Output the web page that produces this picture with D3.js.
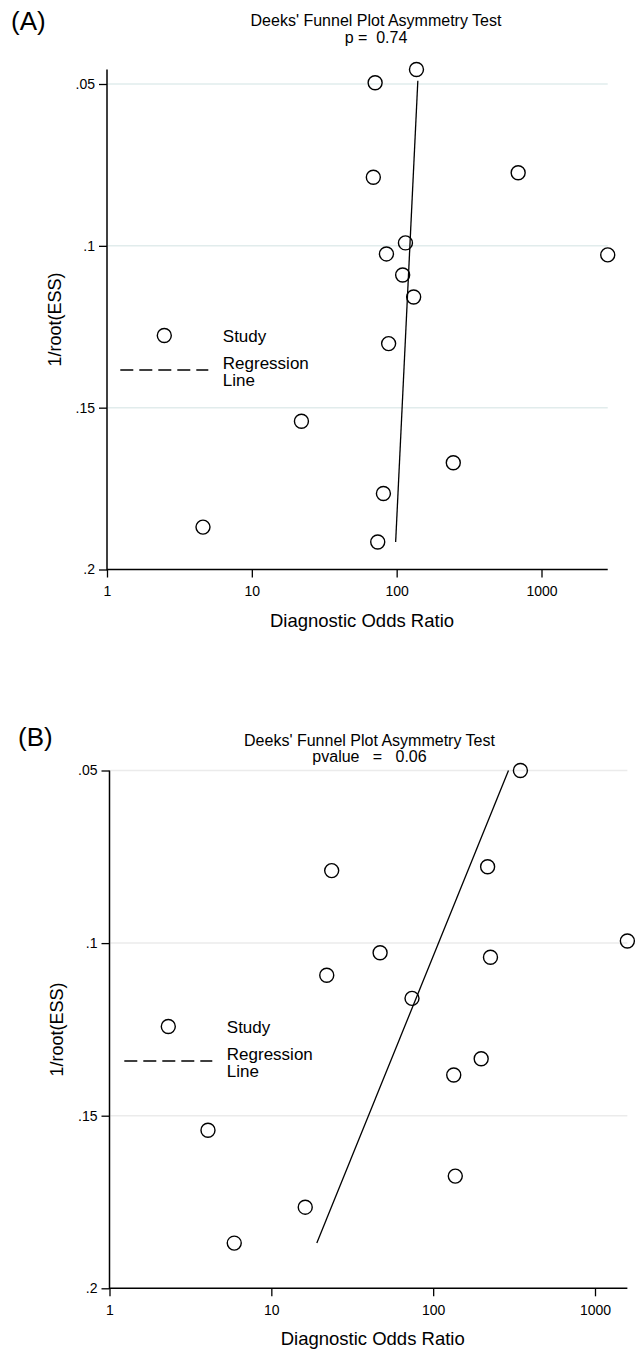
<!DOCTYPE html>
<html>
<head>
<meta charset="utf-8">
<script src="https://cdn.jsdelivr.net/npm/d3@7"></script>
<style>
body { margin: 0; background: #fff; }
svg text { font-family: "Liberation Sans", Arial, sans-serif; fill: #000; }
</style>
</head>
<body>
<svg id="chart" width="638" height="1355"></svg>
<script>
// panel A: diagnostic odds ratio vs 1/root(ESS), one value per study
const dorA = [137, 71, 69, 690, 115, 85, 2866, 110, 131, 88, 22, 246, 81, 4.6, 74];
const essA = [.0455, .0496, .0788, .0774, .0991, .1025, .1028, .109, .1158, .1302, .1542, .167, .1765, .1869, .1915];
// regression line end points
const regDorA = [140, 98.4];
const regEssA = [.049, .1915];

// panel B
const dorB = [346, 23.6, 217, 1585, 47, 226, 22, 74, 198, 134, 4.06, 137, 16.2, 5.9];
const essB = [.05, .079, .0779, .0994, .1028, .1041, .1093, .116, .1335, .1382, .1542, .1675, .1765, .1869];
const regDorB = [292, 19.1];
const regEssB = [.05, .1869];

const xTicks = [1, 10, 100, 1000];
const xTickLabels = ["1", "10", "100", "1000"];
const yTicks = [.05, .1, .15, .2];
const yTickLabels = [".05", ".1", ".15", ".2"];

const svg = d3.select("#chart");

function drawPanel(p) {
    const x = d3.scaleLog().domain([1, 1000]).range([p.x1, p.x1000]);
    const y = d3.scaleLinear().domain([.05, .2]).range([p.y05, p.y2]);

    const xMax = d3.max(p.dor);
    const yMin = Math.min(.05, d3.min(p.ess));

    const g = svg.append("g");

    // light horizontal grid
    g.append("g").selectAll("line")
        .data(yTicks.slice(0, 3))
      .enter()
      .append("line")
        .attr("x1", x(1) + 1)
        .attr("x2", x(xMax))
        .attr("y1", d => y(d))
        .attr("y2", d => y(d))
        .attr("stroke", p.gridColour)
        .attr("stroke-width", 1.5);

    // axes
    const ax = g.append("g")
        .attr("transform", `translate(0,${y(.2)})`)
        .call(d3.axisBottom(x).tickValues(xTicks)
            .tickFormat((d, i) => xTickLabels[i])
            .tickSize(8).tickPadding(9));
    const ay = g.append("g")
        .attr("transform", `translate(${x(1)},0)`)
        .call(d3.axisLeft(y).tickValues(yTicks)
            .tickFormat((d, i) => yTickLabels[i])
            .tickSize(8).tickPadding(4));

    [ax, ay].forEach(a => {
        a.select(".domain").remove();
        a.attr("font-family", null).attr("font-size", 14);
        a.selectAll(".tick line").attr("stroke", "#000").attr("stroke-width", 1.3);
    });

    g.append("line")
        .attr("x1", x(1)).attr("x2", x(xMax))
        .attr("y1", y(.2)).attr("y2", y(.2))
        .attr("stroke", "#000").attr("stroke-width", 1.5);
    g.append("line")
        .attr("x1", x(1)).attr("x2", x(1))
        .attr("y1", y(yMin)).attr("y2", y(.2) + 0.75)
        .attr("stroke", "#000").attr("stroke-width", 1.5);

    // regression line
    g.append("path")
        .datum(d3.zip(p.regDor, p.regEss))
        .attr("d", d3.line().x(d => x(d[0])).y(d => y(d[1])))
        .attr("fill", "none")
        .attr("stroke", "#000")
        .attr("stroke-width", 1.3);

    // studies
    g.append("g").selectAll("circle")
        .data(d3.zip(p.dor, p.ess))
      .enter()
      .append("circle")
        .attr("cx", d => x(d[0]))
        .attr("cy", d => y(d[1]))
        .attr("r", 7)
        .attr("fill", "none")
        .attr("stroke", "#000")
        .attr("stroke-width", 1.4);

    // titles
    g.append("text")
        .attr("x", p.tagX).attr("y", p.tagY)
        .attr("font-size", 26)
        .text(p.tag);
    g.append("text")
        .attr("x", p.titleX).attr("y", p.titleY)
        .attr("text-anchor", "middle")
        .attr("font-size", 16)
        .text("Deeks' Funnel Plot Asymmetry Test");
    g.append("text")
        .attr("x", p.titleX).attr("y", p.titleY + 16.5)
        .attr("text-anchor", "middle")
        .attr("font-size", 16)
        .style("white-space", "pre")
        .text(p.subtitle);

    g.append("text")
        .attr("transform", `translate(${p.yTitleX},${(y(yMin) + y(.2)) / 2}) rotate(-90)`)
        .attr("text-anchor", "middle")
        .attr("font-size", 18)
        .text("1/root(ESS)");
    g.append("text")
        .attr("x", p.xTitleX).attr("y", y(.2) + 57)
        .attr("text-anchor", "middle")
        .attr("font-size", 18.5)
        .text("Diagnostic Odds Ratio");

    // legend
    const lg = g.append("g").attr("transform", `translate(${p.legX},${p.legY})`);
    lg.append("circle")
        .attr("cx", 0).attr("cy", 0).attr("r", 7)
        .attr("fill", "none").attr("stroke", "#000").attr("stroke-width", 1.4);
    lg.append("line")
        .attr("x1", -44).attr("x2", 44)
        .attr("y1", 34.5).attr("y2", 34.5)
        .attr("stroke", "#000").attr("stroke-width", 1.3)
        .attr("stroke-dasharray", "13,6");
    [["Study", 6.5], ["Regression", 33.5], ["Line", 50]].forEach(t => {
        lg.append("text")
            .attr("x", 58.5).attr("y", t[1])
            .attr("font-size", 17)
            .text(t[0]);
    });
}

drawPanel({
    dor: dorA, ess: essA, regDor: regDorA, regEss: regEssA,
    x1: 107, x1000: 541.5, y05: 84, y2: 569.5,
    gridColour: "#e1ecec",
    tag: "(A)", tagX: 11, tagY: 30,
    titleX: 376, titleY: 26, subtitle: "p =  0.74",
    yTitleX: 61, xTitleX: 362,
    legX: 164.3, legY: 335.5
});

drawPanel({
    dor: dorB, ess: essB, regDor: regDorB, regEss: regEssB,
    x1: 109.5, x1000: 595, y05: 770.5, y2: 1288.3,
    gridColour: "#ebebeb",
    tag: "(B)", tagX: 18, tagY: 746,
    titleX: 369.5, titleY: 745.5, subtitle: "pvalue   =   0.06",
    yTitleX: 63, xTitleX: 372.7,
    legX: 168.3, legY: 1026.5
});
</script>
</body>
</html>
